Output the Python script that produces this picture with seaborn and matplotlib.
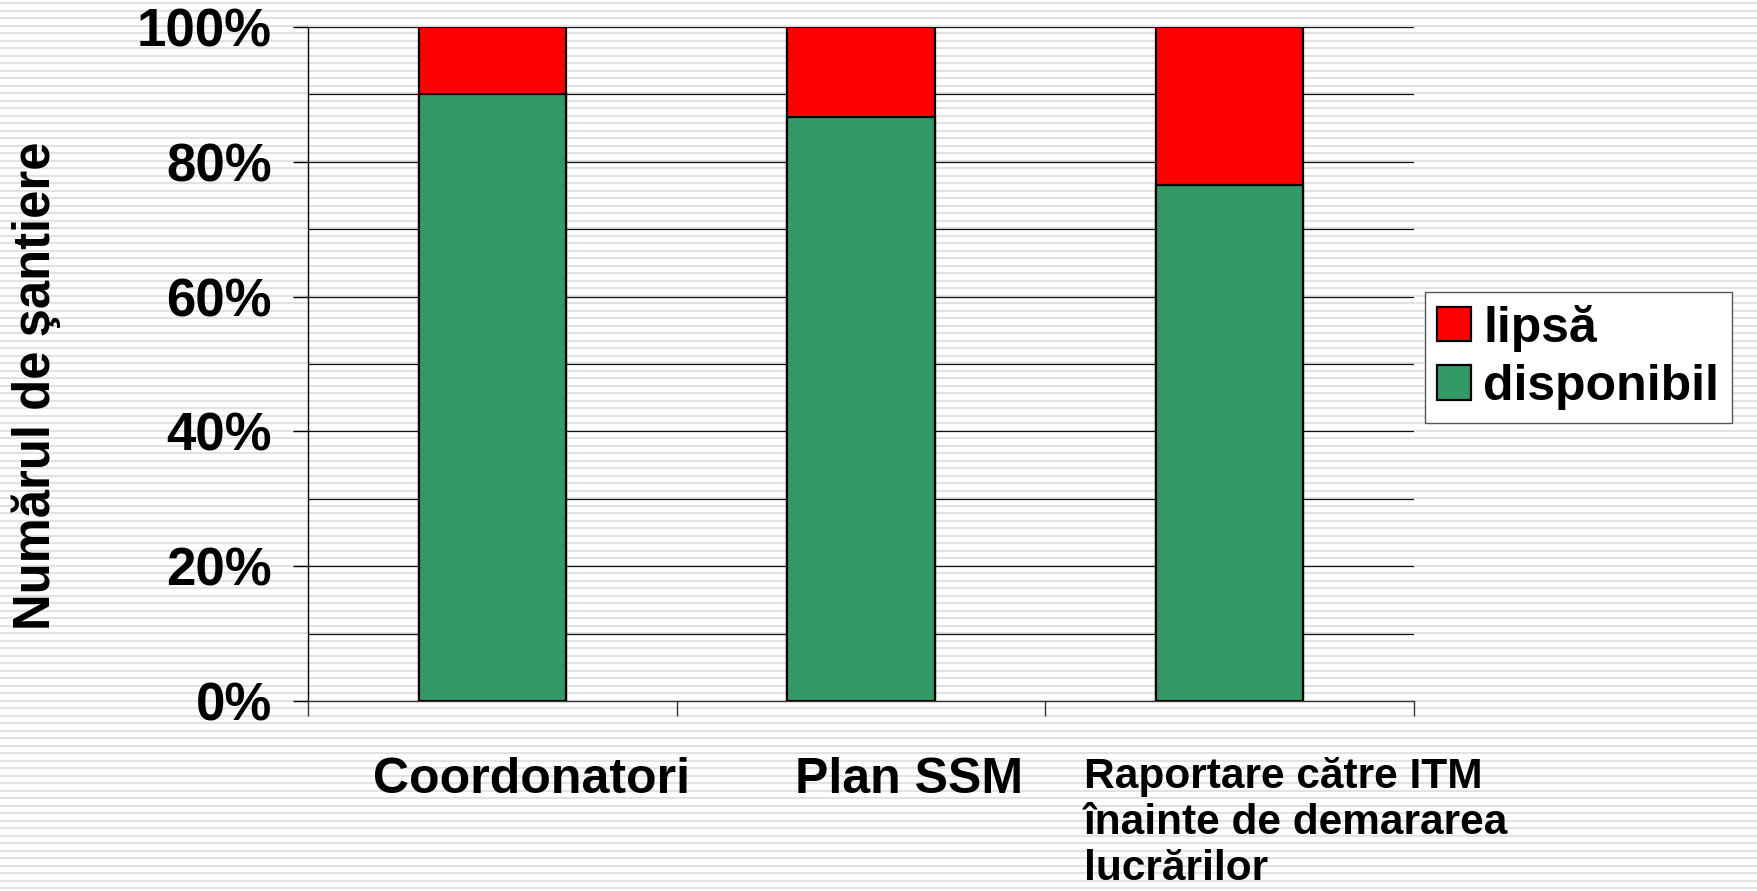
import numpy as np
import pandas as pd
import matplotlib
matplotlib.use("Agg")
import matplotlib.pyplot as plt
from matplotlib.patches import Patch
import seaborn as sns

# date (procente)
categorii = ["Coordonatori", "Plan SSM",
             "Raportare către ITM\nînainte de demararea\nlucrărilor"]
disponibil = [90.0, 86.6, 76.5]
lipsa = [10.0, 13.4, 23.5]
yticks = [0, 20, 40, 60, 80, 100]
ytick_labels = ["0%", "20%", "40%", "60%", "80%", "100%"]

sns.set_theme(style="white")
plt.rcParams['font.family'] = ['Liberation Sans', 'DejaVu Sans']
plt.rcParams['font.weight'] = 'bold'
plt.rcParams['text.color'] = 'black'
plt.rcParams['xtick.color'] = 'black'
plt.rcParams['ytick.color'] = 'black'

VERDE = "#339966"
ROSU = "#FF0000"

fig = plt.figure(figsize=(17.58, 8.91), dpi=100)

# fundal cu dungi orizontale
bg = fig.add_axes([0, 0, 1, 1], zorder=0)
bg.set_xlim(0, 1758)
bg.set_ylim(891, 0)
bg.axis("off")
for y in np.arange(3, 891, 7.5):
    bg.axhline(y, color="#e2e2e2", lw=1.5)

ax = fig.add_axes([308 / 1758, 1 - 701 / 891, (1414 - 308) / 1758, (701 - 27) / 891], zorder=1)
ax.set_facecolor("none")

df = pd.DataFrame({"cat": categorii, "disponibil": disponibil,
                   "total": [d + l for d, l in zip(disponibil, lipsa)]})

for y in np.arange(10, 101, 10):
    ax.axhline(y, color="#111111", lw=0.9, zorder=0.5)

sns.barplot(data=df, x="cat", y="total", color=ROSU, saturation=1, width=0.4,
            edgecolor="black", linewidth=1.6, ax=ax, zorder=2)
sns.barplot(data=df, x="cat", y="disponibil", color=VERDE, saturation=1, width=0.4,
            edgecolor="black", linewidth=1.6, ax=ax, zorder=3)

ax.set_xlim(-0.5, 2.5)
ax.set_ylim(0, 100)
for s in ["top", "right"]:
    ax.spines[s].set_visible(False)
ax.spines["left"].set_color("black")
ax.spines["left"].set_linewidth(1.0)
ax.spines["bottom"].set_color("#333333")
ax.spines["bottom"].set_linewidth(1.0)

ax.set_yticks(yticks)
ax.set_yticklabels(ytick_labels, fontsize=38, fontweight="bold")
ax.tick_params(axis="y", direction="out", length=11, width=1, colors="black", pad=15, left=True)

# ticks la marginile categoriilor
ax.set_xticks([-0.5, 0.5, 1.5, 2.5])
ax.set_xticklabels([])
ax.tick_params(axis="x", direction="out", length=11, width=1, color="#333333", bottom=True)
ax.spines["left"].set_bounds(0, 100)

# etichete categorii
ax.text(0.105, -0.083, categorii[0], transform=ax.get_xaxis_transform(), ha="center", va="top",
        fontsize=36, fontweight="bold")
ax.text(1.13, -0.083, categorii[1], transform=ax.get_xaxis_transform(), ha="center", va="top",
        fontsize=36, fontweight="bold")
ax.text(1.604, -0.083, categorii[2], transform=ax.get_xaxis_transform(), ha="left", va="top",
        fontsize=30.5, fontweight="bold", linespacing=1.2)

ax.set_xlabel("")
ax.set_ylabel("")
fig.text(36 / 1758, 1 - 386 / 891, "Numărul de şantiere", rotation=90, ha="center", va="center",
         fontsize=36.5, fontweight="bold")

handles = [Patch(facecolor=ROSU, edgecolor="black", lw=1.6),
           Patch(facecolor=VERDE, edgecolor="black", lw=1.6)]
leg = fig.legend(handles, ["lipsă", "disponibil"], loc="upper left",
                 bbox_to_anchor=(1425 / 1758, 1 - 292 / 891), frameon=True, fancybox=False,
                 framealpha=1, edgecolor="#555555", prop={"size": 36, "weight": "bold"},
                 handlelength=0.68, handleheight=0.68, handletextpad=0.24, borderpad=0.25,
                 labelspacing=0.25, borderaxespad=0)
leg.get_frame().set_linewidth(1.0)

fig.savefig("out.png", dpi=100)
